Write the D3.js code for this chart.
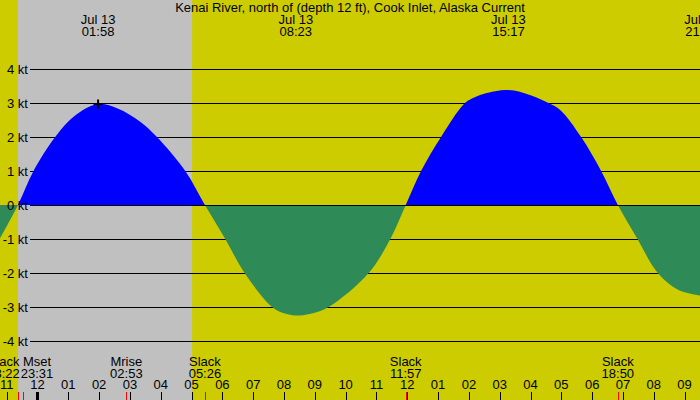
<!DOCTYPE html>
<html lang="en">
<head>
<meta charset="UTF-8">
<title>Kenai River Current</title>
<script src="https://cdn.jsdelivr.net/npm/d3@7"></script>
<style>
    body { margin: 0; background: #fff; }
    svg { display: block; }
    text { font-family: "Liberation Sans", Arial, sans-serif; font-size: 13px; fill: #000; }
</style>
</head>
<body>
<svg id="chart" width="700" height="400"></svg>
<script>
// current curve, hours after Jul 13 00:00 and speed in knots
const curveHours = [-1.22, -0.633, -0.13, 0.575, 1.2, 1.967, 2.6, 3.334, 3.877, 4.795, 5.433,
    6.094, 6.721, 7.61, 7.95, 8.383, 8.9, 9.448, 10.747, 11.451, 11.95,
    12.448, 13.097, 13.831, 14.1, 14.5, 15.283, 16.0, 16.58, 16.971, 17.643, 18.292, 18.833,
    19.471, 20.13, 20.8, 21.55];
const curveKnots = [-0.99, 0, 1, 2, 2.62, 2.97, 2.84, 2.45, 2, 1, 0,
    -1, -2, -3, -3.17, -3.25, -3.19, -3, -2, -1, 0,
    1, 2, 2.96, 3.13, 3.27, 3.38, 3.23, 3, 2.79, 2, 1, 0,
    -1, -2, -2.5, -2.67];

// max flood / ebb labels at the top
const maxDays = ["Jul 13", "Jul 13", "Jul 13", "Jul 13"];
const maxTimes = ["01:58", "08:23", "15:17", "21:33"];

// events along the bottom
const eventNames = ["Slack", "Mset", "Mrise", "Slack", "Slack", "Slack"];
const eventDays = [12, 12, 13, 13, 13, 13];
const eventTimes = ["23:22", "23:31", "02:53", "05:26", "11:57", "18:50"];

// night shading: sunset Jul 12, sunrise Jul 13
const sunset = "2024-07-12 23:22";
const sunrise = "2024-07-13 05:01";

const knotTicks = [4, 3, 2, 1, 0, -1, -2, -3, -4];
const title = "Kenai River, north of (depth 12 ft), Cook Inlet, Alaska Current";

const width = 700, height = 400;
const parse = d3.timeParse("%Y-%m-%d %H:%M");
const day0 = parse("2024-07-13 00:00");
const fromHours = h => new Date(day0.getTime() + h * 3600e3);

const x = d3.scaleTime()
    .domain([parse("2024-07-12 22:47"), parse("2024-07-13 21:30")])
    .range([0, width]);
const y = d3.scaleLinear().domain([0, 4]).range([205, 69]);

const svg = d3.select("#chart");

svg.append("rect").attr("width", width).attr("height", height).attr("fill", "#cccc00");
svg.append("rect")
    .attr("x", x(parse(sunset)))
    .attr("width", x(parse(sunrise)) - x(parse(sunset)))
    .attr("height", height)
    .attr("fill", "#c0c0c0");

// grid lines (zero line drawn on top later)
svg.append("g").selectAll("line")
    .data(knotTicks.filter(d => d !== 0))
    .join("line")
    .attr("x1", 30).attr("x2", width)
    .attr("y1", d => y(d) + 0.5).attr("y2", d => y(d) + 0.5)
    .attr("stroke", "#000");

const points = curveHours.map((h, i) => ({ t: fromHours(h), v: curveKnots[i] }));

const area = d3.area()
    .x(d => x(d.t))
    .y0(y(0))
    .y1(d => y(d.v))
    .curve(d3.curveCatmullRom.alpha(0.5));

const defs = svg.append("defs");
defs.append("clipPath").attr("id", "above")
    .append("rect").attr("width", width).attr("height", y(0) + 0.5);
defs.append("clipPath").attr("id", "below")
    .append("rect").attr("y", y(0) + 0.5).attr("width", width).attr("height", height);

svg.append("path").datum(points).attr("d", area)
    .attr("fill", "#0000ff").attr("clip-path", "url(#above)");
svg.append("path").datum(points).attr("d", area)
    .attr("fill", "#2e8b57").attr("clip-path", "url(#below)");

svg.append("line")
    .attr("x1", 30).attr("x2", width)
    .attr("y1", y(0) + 0.5).attr("y2", y(0) + 0.5)
    .attr("stroke", "#000");

svg.append("g").selectAll("text")
    .data(knotTicks)
    .join("text")
    .attr("x", 28)
    .attr("y", d => y(d) + 5)
    .attr("text-anchor", "end")
    .text(d => d + " kt");

// "+" at the first maximum
const mark = points[5];
svg.append("path")
    .attr("d", `M${x(mark.t) - 4.5},${y(mark.v)}h9M${x(mark.t)},${y(mark.v) - 4.5}v9`)
    .attr("stroke", "#000").attr("stroke-width", 2);

// title and max labels
svg.append("text").attr("x", width / 2).attr("y", 12)
    .attr("text-anchor", "middle").text(title);

const tops = svg.append("g").selectAll("g")
    .data(maxTimes.map((t, i) => ({ day: maxDays[i], t: t, date: parse("2024-07-13 " + t) })))
    .join("g")
    .attr("transform", d => `translate(${x(d.date)},0)`);
tops.append("text").attr("y", 24).attr("text-anchor", "middle").text(d => d.day);
tops.append("text").attr("y", 36).attr("text-anchor", "middle").text(d => d.t);

// bottom events
const events = eventNames.map((name, i) => {
    const date = parse(`2024-07-${eventDays[i]} ${eventTimes[i]}`);
    return { name: name, time: eventTimes[i], date: date, cx: x(date) };
});
// push overlapping labels apart
const minGap = 33.5;
for (let i = 1; i < events.length; i++) {
    const a = events[i - 1], b = events[i];
    if (b.cx - a.cx < minGap) {
        const mid = (a.cx + b.cx) / 2;
        a.cx = mid - minGap / 2;
        b.cx = mid + minGap / 2;
    }
}
const ev = svg.append("g").selectAll("g")
    .data(events)
    .join("g")
    .attr("transform", d => `translate(${d.cx},0)`);
ev.append("text").attr("y", 366).attr("text-anchor", "middle").text(d => d.name);
ev.append("text").attr("y", 378).attr("text-anchor", "middle").text(d => d.time);

// hour axis
const hours = d3.timeHour.range(parse("2024-07-12 22:00"), parse("2024-07-13 22:00"));
const fmt = d3.timeFormat("%I");
svg.append("g").selectAll("text")
    .data(hours)
    .join("text")
    .attr("x", d => x(d))
    .attr("y", 389)
    .attr("text-anchor", "middle")
    .text(d => fmt(d));
svg.append("g").selectAll("line")
    .data(hours)
    .join("line")
    .attr("x1", d => Math.round(x(d)) + 0.5).attr("x2", d => Math.round(x(d)) + 0.5)
    .attr("y1", 392).attr("y2", 400)
    .attr("stroke", "#000")
    .attr("stroke-width", d => d.getHours() === 0 ? 3 : 1);
svg.append("g").selectAll("line")
    .data(events)
    .join("line")
    .attr("x1", d => Math.round(x(d.date)) + 0.5).attr("x2", d => Math.round(x(d.date)) + 0.5)
    .attr("y1", 392).attr("y2", 400)
    .attr("stroke", "#ff0000");
</script>
</body>
</html>
